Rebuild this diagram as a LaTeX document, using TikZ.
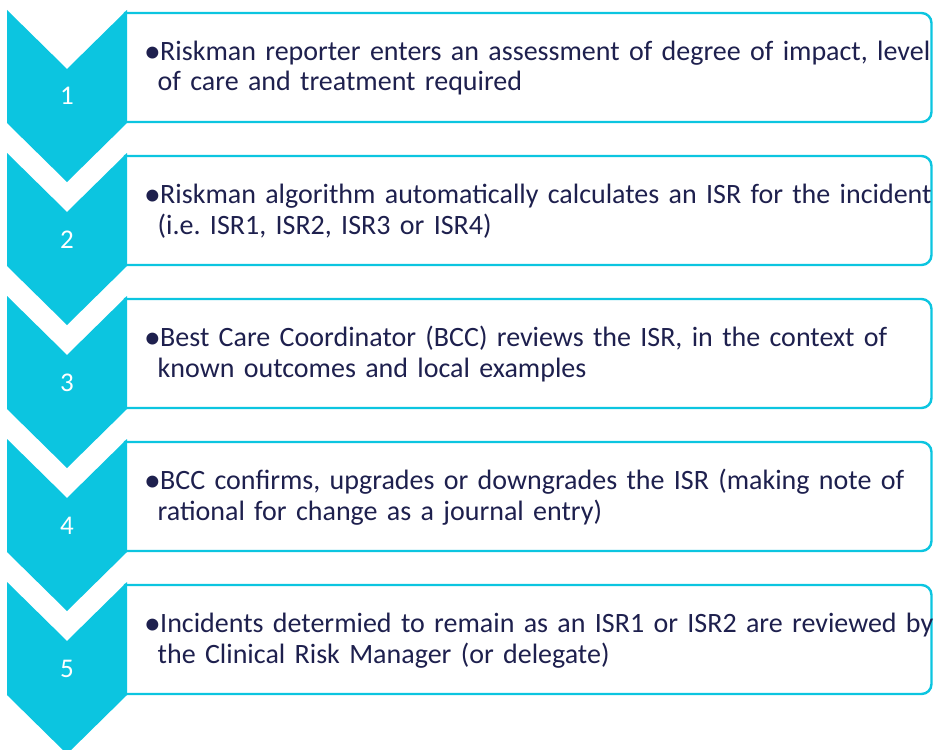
\documentclass[tikz,border=0pt]{standalone}
\usepackage{fontspec}
\setmainfont{Carlito}
\frenchspacing
\definecolor{chevcyan}{RGB}{12,197,224}
\definecolor{textnavy}{RGB}{30,32,78}
\tikzset{
  stepbox/.style={draw=chevcyan, line width=2.4pt, fill=white},
  chevron/.style={fill=chevcyan, draw=none},
  stepnum/.style={text=white, inner sep=0pt, anchor=base,
    font=\fontsize{27}{27}\selectfont},
  bulletmark/.style={text=textnavy, inner sep=0pt, anchor=base west,
    font=\fontsize{28}{28}\selectfont},
  steptext/.style={text=textnavy, inner sep=0pt, anchor=base west,
    text width=800pt, align=left,
    font=\fontsize{28}{30.5}\selectfont},
}
\begin{document}
\begin{tikzpicture}[x=1pt,y=1pt]
\useasboundingbox (0,0) rectangle (933,-749);
\clip (0,0) rectangle (933,-749);
% one step: box with rounded right corners, chevron over its left end
% #1 = top of the chevron (distance from the top edge), #2 = number
\newcommand{\flowstep}[4]{%
  \draw[stepbox] (125,-#1-3) -- (921.5,-#1-3)
    arc[start angle=90,end angle=0,radius=10] -- (931.5,-#1-102)
    arc[start angle=0,end angle=-90,radius=10] -- (125,-#1-112) -- cycle;
  \fill[chevron] (7,-#1) -- (67,-#1-59) -- (127,-#1) -- (127,-#1-113)
    -- (67,-#1-172) -- (7,-#1-113) -- cycle;
  \node[stepnum] (num#2) at (67,-#1-95) {#2};
  \node[bulletmark] (bul#2) at (144,-#1-50.5)
    {\raisebox{-2.2pt}{\scalebox{1.2}{\textbullet}}};
  \node[steptext] (txt#2) at (157.5,-#1-50.5) {\hspace*{2.5pt}#3\\#4};
}
\flowstep{10}{1}{Riskman reporter enters an assessment of degree of impact, level}{of care and treatment required}
\flowstep{153}{2}{Riskman algorithm automatically calculates an ISR for the incident}{(i.e. ISR1, ISR2, ISR3 or ISR4)}
\flowstep{296}{3}{Best Care Coordinator (BCC) reviews the ISR, in the context of}{known outcomes and local examples}
\flowstep{439}{4}{BCC confirms, upgrades or downgrades the ISR (making note of}{rational for change as a journal entry)}
\flowstep{582}{5}{Incidents determied to remain as an ISR1 or ISR2 are reviewed by}{the Clinical Risk Manager (or delegate)}
\end{tikzpicture}
\end{document}
